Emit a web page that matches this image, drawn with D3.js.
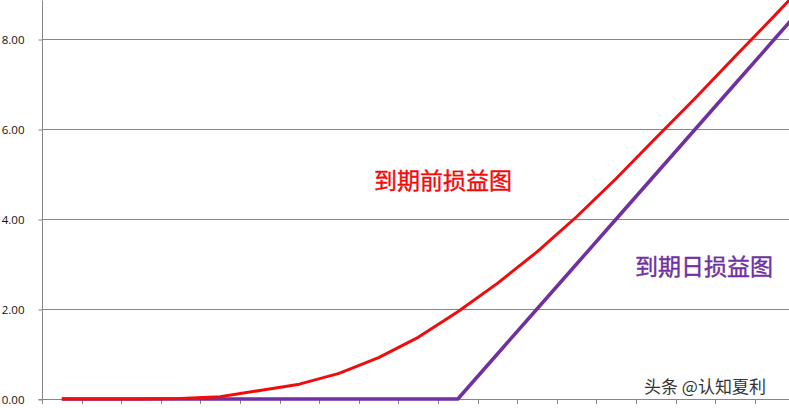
<!DOCTYPE html>
<html>
<head>
<meta charset="utf-8">
<script src="https://cdn.jsdelivr.net/npm/d3@7"></script>
<style>
  body { margin: 0; background: #fff; }
  svg { display: block; }
</style>
</head>
<body>
<svg id="chart" width="789" height="408"></svg>
<script>
// 類別 (標的價格序號)，數值讀自圖片
const categories = d3.range(20);
const beforeExpiry = [0, 0, 0, 0.01, 0.05, 0.19, 0.33, 0.57, 0.92, 1.37, 1.94, 2.57, 3.27, 4.05, 4.9, 5.8, 6.69, 7.61, 8.52, 9.45];
const atExpiry = [0, 0, 0, 0, 0, 0, 0, 0, 0, 0, 0, 1, 2, 3, 4, 5, 6, 7, 8, 9];
const yTicks = [0, 2, 4, 6, 8];

const svg = d3.select('#chart');
const left = 42;
const bottom = 399;

const x = d3.scaleBand()
  .domain(categories)
  .range([left, left + 20 * 39.6]);

// 0 在 399，每 2 單位 90px
const y = d3.scaleLinear()
  .domain([0, 10])
  .range([bottom, bottom - 450]);

svg.append('defs').append('clipPath')
  .attr('id', 'plot-clip')
  .append('rect')
  .attr('x', left)
  .attr('y', 0)
  .attr('width', 789 - left)
  .attr('height', bottom + 2);

// 格線
svg.append('g')
  .selectAll('line')
  .data(yTicks.filter(d => d > 0))
  .join('line')
  .attr('x1', left)
  .attr('x2', 789)
  .attr('y1', d => y(d) + 0.5)
  .attr('y2', d => y(d) + 0.5)
  .attr('stroke', '#878787')
  .attr('stroke-width', 1);

// y 軸
const yAxis = svg.append('g')
  .attr('transform', `translate(${left + 0.5},0.5)`)
  .call(d3.axisLeft(y).tickValues(yTicks).tickSize(4).tickPadding(14).tickFormat(d3.format('.2f')));
yAxis.select('.domain').attr('stroke', '#878787').attr('d', `M-4,${bottom}H0V0`);
yAxis.selectAll('.tick line').attr('stroke', '#878787');
yAxis.selectAll('.tick text')
  .attr('font-family', '"Open Sans", sans-serif')
  .attr('font-size', '11.5px')
  .attr('fill', '#111');

// x 軸
const xTickPos = d3.range(21).map(i => left + i * x.step());
const xAxis = svg.append('g');
xAxis.append('line')
  .attr('x1', left)
  .attr('x2', 789)
  .attr('y1', bottom + 0.5)
  .attr('y2', bottom + 0.5)
  .attr('stroke', '#878787');
xAxis.selectAll('.xt')
  .data(xTickPos)
  .join('line')
  .attr('class', 'xt')
  .attr('x1', d => Math.round(d) + 0.5)
  .attr('x2', d => Math.round(d) + 0.5)
  .attr('y1', bottom)
  .attr('y2', bottom + 5)
  .attr('stroke', '#878787');

const line = d3.line()
  .x((d, i) => x(categories[i]) + x.bandwidth() / 2)
  .y(d => y(d));

const plot = svg.append('g').attr('clip-path', 'url(#plot-clip)');

plot.append('path')
  .datum(atExpiry)
  .attr('d', line)
  .attr('fill', 'none')
  .attr('stroke', '#7030a0')
  .attr('stroke-width', 3.5)
  .attr('stroke-linejoin', 'round');

plot.append('path')
  .datum(beforeExpiry)
  .attr('d', line)
  .attr('fill', 'none')
  .attr('stroke', '#f00c0c')
  .attr('stroke-width', 3)
  .attr('stroke-linejoin', 'round');

// 標籤文字
svg.append('text')
  .attr('x', 443)
  .attr('y', 189)
  .attr('text-anchor', 'middle')
  .attr('font-family', '"Noto Sans CJK SC", sans-serif')
  .attr('font-size', '23px')
  .attr('font-weight', 'normal')
  .attr('stroke', '#f00c0c')
  .attr('stroke-width', 0.4)
  .attr('fill', '#f00c0c')
  .text('到期前损益图');

svg.append('text')
  .attr('x', 704)
  .attr('y', 275)
  .attr('text-anchor', 'middle')
  .attr('font-family', '"Noto Sans CJK SC", sans-serif')
  .attr('font-size', '23px')
  .attr('font-weight', 'normal')
  .attr('stroke', '#7030a0')
  .attr('stroke-width', 0.4)
  .attr('fill', '#7030a0')
  .text('到期日损益图');

// 浮水印
svg.append('text')
  .attr('x', 705)
  .attr('y', 393)
  .attr('text-anchor', 'middle')
  .attr('font-family', '"Noto Sans CJK SC", sans-serif')
  .attr('font-size', '17px')
  .attr('fill', '#333')
  .attr('stroke', '#fff')
  .attr('stroke-width', 3)
  .attr('paint-order', 'stroke')
  .text('头条 @认知夏利');
</script>
</body>
</html>
